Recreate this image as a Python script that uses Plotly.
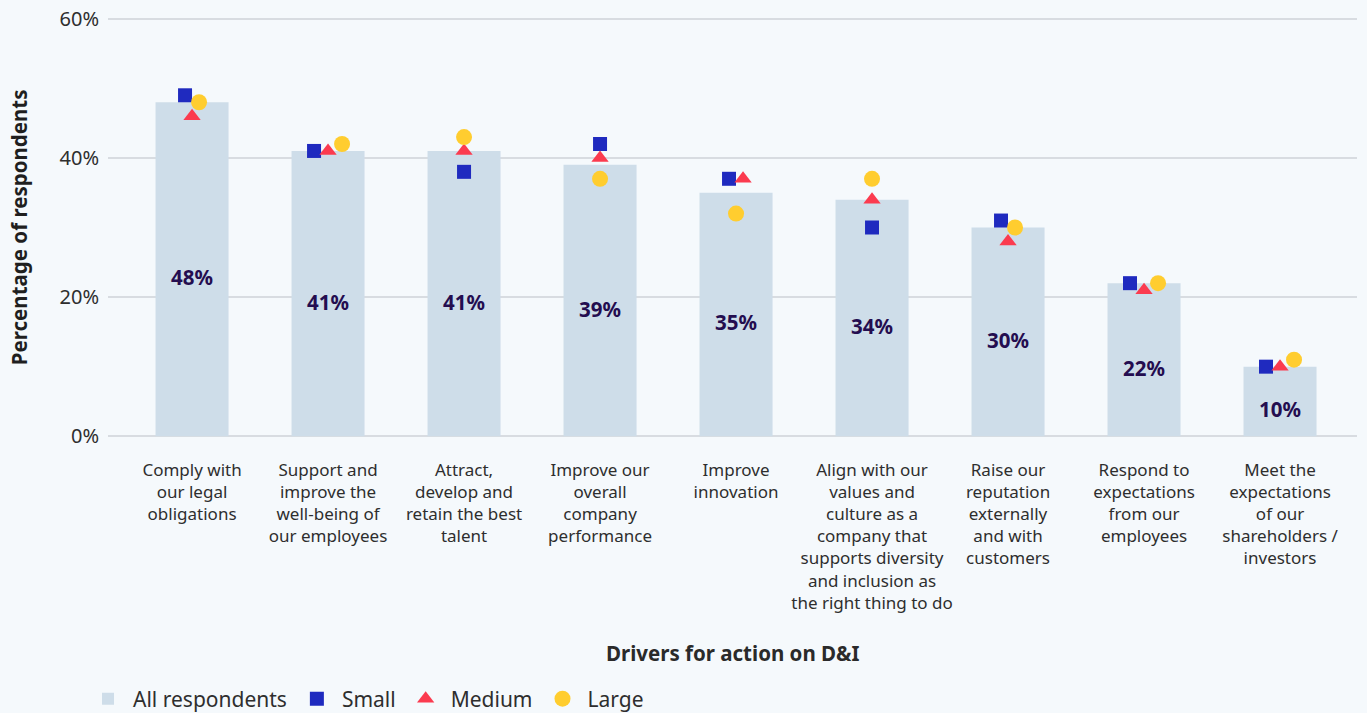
import plotly.graph_objects as go

# Survey results: drivers for action on diversity & inclusion
categories = [
    "Comply with<br>our legal<br>obligations",
    "Support and<br>improve the<br>well-being of<br>our employees",
    "Attract,<br>develop and<br>retain the best<br>talent",
    "Improve our<br>overall<br>company<br>performance",
    "Improve<br>innovation",
    "Align with our<br>values and<br>culture as a<br>company that<br>supports diversity<br>and inclusion as<br>the right thing to do",
    "Raise our<br>reputation<br>externally<br>and with<br>customers",
    "Respond to<br>expectations<br>from our<br>employees",
    "Meet the<br>expectations<br>of our<br>shareholders /<br>investors",
]
all_respondents = [48, 41, 41, 39, 35, 34, 30, 22, 10]
small = [49, 41, 38, 42, 37, 30, 31, 22, 10]
medium = [46, 41, 41, 40, 37, 34, 28, 21, 10]
large = [48, 42, 43, 37, 32, 37, 30, 22, 11]
y_ticks = [0, 20, 40, 60]

FONT = "Noto Sans"
BAR_COLOR = "#cedde9"
BG = "#f5f9fc"
TEXT = "#2e2e2e"
series = [
    ("Small", small, "square", "#1f2abf", 14),
    ("Medium", medium, "triangle-up", "#fb3b4f", 15),
    ("Large", large, "circle", "#ffcd2f", 16),
]

# Spread markers sideways when their values sit within a point of each other
STEP = 0.103
offsets = [[0.0] * len(categories) for _ in series]
for c in range(len(categories)):
    vals = [s[1][c] for s in series]
    n = len(vals)
    parent = list(range(n))

    def find(i):
        while parent[i] != i:
            i = parent[i]
        return i

    for i in range(n):
        for j in range(i + 1, n):
            if abs(vals[i] - vals[j]) <= 1.5:
                parent[find(j)] = find(i)
    groups = {}
    for i in range(n):
        groups.setdefault(find(i), []).append(i)
    for members in groups.values():
        k = len(members)
        for pos, i in enumerate(members):
            offsets[i][c] = (pos - (k - 1) / 2) * STEP

x_idx = list(range(len(categories)))

fig = go.Figure()
fig.add_trace(go.Bar(
    x=x_idx, y=all_respondents, name="All respondents",
    marker=dict(color=BAR_COLOR, line=dict(width=0)),
    width=0.537, hoverinfo="y",
))
for k, (name, vals, sym, col, size) in enumerate(series):
    fig.add_trace(go.Scatter(
        x=[x + o for x, o in zip(x_idx, offsets[k])], y=vals, name=name,
        mode="markers",
        marker=dict(symbol=sym, color=col, size=size, line=dict(width=0)),
    ))

# Value labels inside each bar
for x, v in zip(x_idx, all_respondents):
    fig.add_annotation(
        x=x, y=v / 2, text=f"<b>{v}%</b>", showarrow=False, yshift=-8,
        font=dict(family=FONT, size=20.5, color="#240d50"),
    )

fig.add_annotation(
    xref="paper", yref="paper", x=0.5, y=-0.511, text="<b>Drivers for action on D&I</b>",
    showarrow=False, xanchor="center", yanchor="middle",
    font=dict(family=FONT, size=20.5, color="#2a2a2a"),
)
fig.add_annotation(
    xref="paper", yref="paper", x=-0.0715, y=0.5, text="<b>Percentage of respondents</b>",
    showarrow=False, textangle=-90, xanchor="center", yanchor="middle",
    font=dict(family=FONT, size=20.5, color="#1f1f1f"),
)

fig.update_layout(
    width=1367, height=713,
    margin=dict(l=108, r=10, t=17, b=275),
    paper_bgcolor=BG, plot_bgcolor=BG,
    font=dict(family=FONT, size=17, color=TEXT),
    showlegend=True,
    legend=dict(
        orientation="h", x=-0.02, xanchor="left",
        yref="container", y=1 - 699 / 713, yanchor="middle",
        itemwidth=40,
        font=dict(family=FONT, size=21, color=TEXT), bgcolor="rgba(0,0,0,0)",
        itemclick=False,
    ),
    xaxis=dict(
        range=[-0.618, 8.566], tickmode="array", tickvals=x_idx, ticktext=categories,
        showgrid=False, zeroline=False, showline=False, ticks="",
        ticklabelstandoff=20, automargin=False,
        tickfont=dict(family=FONT, size=17, color=TEXT),
    ),
    yaxis=dict(
        range=[-0.25, 60.25], tickmode="array", tickvals=y_ticks,
        ticktext=[f"{t}%" for t in y_ticks],
        showgrid=True, gridcolor="#d8dce1", gridwidth=2, zeroline=False,
        showline=False, ticks="", ticklabelstandoff=8, automargin=False,
        tickfont=dict(family=FONT, size=20, color=TEXT),
    ),
)

fig.write_html("out.html")
